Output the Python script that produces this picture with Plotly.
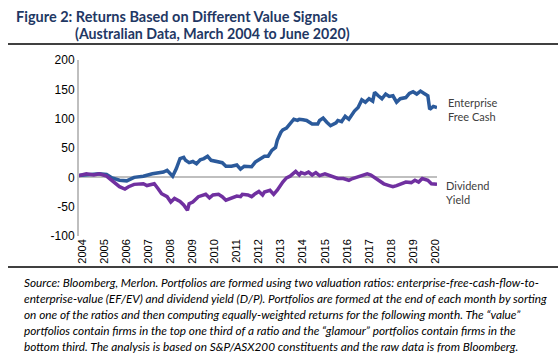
import plotly.graph_objects as go

# ---- data ----
efc_dates = ["2004-03", "2005-02", "2005-06", "2005-09", "2006-01", "2006-05", "2006-09", "2007-02",
             "2007-07", "2008-01", "2008-03", "2008-05", "2008-06", "2008-08", "2008-10", "2008-12",
             "2009-01", "2009-03", "2009-05", "2009-07", "2009-09", "2009-11", "2010-01", "2010-03",
             "2010-06", "2010-09", "2010-11", "2011-02", "2011-05", "2011-07", "2011-09", "2012-01",
             "2012-03", "2012-06", "2012-08", "2012-10", "2012-12", "2013-02", "2013-03", "2013-05",
             "2013-06", "2013-08", "2013-10", "2013-12", "2014-02", "2014-03", "2014-05", "2014-07",
             "2014-10", "2015-01", "2015-02", "2015-04", "2015-06", "2015-08", "2015-11", "2015-12",
             "2016-02", "2016-04", "2016-06", "2016-09", "2016-11", "2017-01", "2017-03", "2017-05",
             "2017-07", "2017-08", "2017-10", "2017-12", "2018-02", "2018-04", "2018-06", "2018-08",
             "2018-10", "2019-01", "2019-03", "2019-05", "2019-07", "2019-09", "2019-11", "2020-01",
             "2020-02", "2020-04", "2020-06"]
efc_values = [3, 6, 5, -1, -5, -6, 0, 2,
              6, 9, 12, 5, 2, 15, 32, 34,
              29, 25, 27, 23, 30, 32, 36, 29,
              27, 25, 19, 19, 21, 14, 19, 18,
              26, 32, 36, 36, 46, 51, 63, 77,
              81, 84, 91, 99, 97, 99, 98, 97,
              91, 91, 97, 101, 94, 88, 93, 97,
              95, 104, 99, 113, 119, 132, 128, 134,
              130, 145, 139, 134, 142, 138, 139, 128,
              134, 136, 143, 146, 142, 147, 143, 139,
              116, 121, 119]

dy_dates = ["2004-03", "2004-07", "2004-11", "2005-02", "2005-06", "2005-09", "2006-01", "2006-04",
            "2006-06", "2006-09", "2006-12", "2007-02", "2007-04", "2007-08", "2007-10", "2007-12",
            "2008-03", "2008-05", "2008-07", "2008-10", "2008-12", "2009-02", "2009-03", "2009-05",
            "2009-08", "2009-11", "2009-12", "2010-02", "2010-04", "2010-07", "2010-09", "2010-11",
            "2011-02", "2011-05", "2011-07", "2011-08", "2011-11", "2012-01", "2012-03", "2012-05",
            "2012-07", "2012-08", "2012-11", "2013-01", "2013-03", "2013-05", "2013-06", "2013-08",
            "2013-10", "2014-01", "2014-03", "2014-04", "2014-06", "2014-08", "2014-10", "2014-12",
            "2015-02", "2015-05", "2015-07", "2015-10", "2015-12", "2016-03", "2016-06", "2016-08",
            "2016-10", "2017-01", "2017-04", "2017-06", "2017-08", "2017-10", "2018-01", "2018-04",
            "2018-06", "2018-08", "2018-11", "2019-01", "2019-04", "2019-06", "2019-08", "2019-10",
            "2020-01", "2020-03", "2020-06"]
dy_values = [3, 6, 4, 6, 2, -5, -16, -20,
             -16, -12, -12, -11, -14, -11, -19, -28,
             -33, -42, -36, -41, -47, -56, -45, -42,
             -33, -30, -29, -35, -30, -29, -33, -39,
             -36, -32, -33, -29, -30, -33, -28, -24,
             -30, -25, -22, -29, -22, -11, -8, -1,
             2, 10, 4, 8, 6, 9, 4, 8,
             3, 6, 4, 0, -2, -2, -5, -2,
             0, 4, 6, 4, 0, -5, -11, -14,
             -16, -14, -11, -8, -9, -5, -8, -2,
             -5, -11, -12]

years = [str(y) for y in range(2004, 2021)]
tick_dates = [y + "-05-01" for y in years]
y_ticks = [-100, -50, 0, 50, 100, 150, 200]
y_tick_text = ["-100", "-50", "0", "50", "100", "150", "200"]

title_lines = ["Figure 2: Returns Based on Different Value Signals",
               "(Australian Data, March 2004 to June 2020)"]
caption_lines = [
    "Source: Bloomberg, Merlon. Portfolios are formed using two valuation ratios: enterprise-free-cash-flow-to-",
    "enterprise-value (EF/EV) and dividend yield (D/P). Portfolios are formed at the end of each month by sorting",
    "on one of the ratios and then computing equally-weighted returns for the following month. The \u201cvalue\u201d",
    "portfolios contain firms in the top one third of a ratio and the \u201cglamour\u201d portfolios contain firms in the",
    "bottom third. The analysis is based on S&P/ASX200 constituents and the raw data is from Bloomberg.",
]

BLUE = "#2B5A9B"
PURPLE = "#7030A0"

W, H = 558, 362
L, R, T, B = 79, 121, 60, 126
pw, ph = W - L - R, H - T - B


def px_x(x):
    return (x - L) / pw


def px_y(y):
    return (H - B - y) / ph


fig = go.Figure()
fig.add_trace(go.Scatter(x=efc_dates, y=efc_values, mode="lines",
                         line=dict(color=BLUE, width=3.5), showlegend=False))
fig.add_trace(go.Scatter(x=dy_dates, y=dy_values, mode="lines",
                         line=dict(color=PURPLE, width=3.5), showlegend=False))

fig.update_layout(
    width=W, height=H,
    margin=dict(l=L, r=R, t=T, b=B, autoexpand=False),
    paper_bgcolor="white", plot_bgcolor="white",
    font=dict(family="Liberation Sans, Arial", size=12, color="#000000"),
)
fig.update_xaxes(
    type="date", range=["2004-03-01", "2020-06-01"], automargin=False,
    tickvals=tick_dates, ticktext=years, tickangle=-90,
    tickfont=dict(size=11, family="Liberation Sans, Arial", color="#000000"),
    showgrid=False, showline=False, zeroline=False, ticks="",
)
fig.update_yaxes(
    range=[-100, 200], tickvals=y_ticks, ticktext=y_tick_text, ticks="", automargin=False,
    showgrid=False, showline=True, linecolor="#BFBFBF", linewidth=2,
    zeroline=True, zerolinecolor="#BFBFBF", zerolinewidth=2,
    tickfont=dict(size=12, family="Liberation Sans, Arial", color="#000000"),
)

# title
fig.add_annotation(text="<b>" + title_lines[0] + "</b>", xref="paper", yref="paper",
                   x=px_x(14), y=px_y(16), xanchor="left", yanchor="middle", showarrow=False,
                   font=dict(family="Lato", size=14.5, color="#1F3864"))
fig.add_annotation(text="<b>" + title_lines[1] + "</b>", xref="paper", yref="paper",
                   x=px_x(73), y=px_y(33), xanchor="left", yanchor="middle", showarrow=False,
                   font=dict(family="Lato", size=14.2, color="#1F3864"))
# rules
fig.add_shape(type="line", xref="paper", yref="paper", x0=px_x(8), x1=px_x(558),
              y0=px_y(44), y1=px_y(44), line=dict(color="black", width=1.5))
fig.add_shape(type="line", xref="paper", yref="paper", x0=px_x(8), x1=px_x(558),
              y0=px_y(267), y1=px_y(267), line=dict(color="black", width=1.5))

# series labels
fig.add_annotation(text="Enterprise<br>Free Cash", xref="paper", yref="paper",
                   x=px_x(446), y=px_y(109), xanchor="left", yanchor="middle", showarrow=False,
                   align="left", font=dict(family="Lato", size=11, color="#404040"))
fig.add_annotation(text="Dividend<br>Yield", xref="paper", yref="paper",
                   x=px_x(444), y=px_y(192), xanchor="left", yanchor="middle", showarrow=False,
                   align="left", font=dict(family="Lato", size=11, color="#404040"))

# caption
for i, line in enumerate(caption_lines):
    fig.add_annotation(text="<i>" + line + "</i>", xref="paper", yref="paper",
                       x=px_x(22), y=px_y(282 + 16 * i), xanchor="left", yanchor="middle",
                       showarrow=False, font=dict(family="Lato", size=11.8, color="#000000"))

fig.write_html("out.html", config={"displayModeBar": False},
               post_script="document.body.style.margin='0';document.body.style.padding='0';")
